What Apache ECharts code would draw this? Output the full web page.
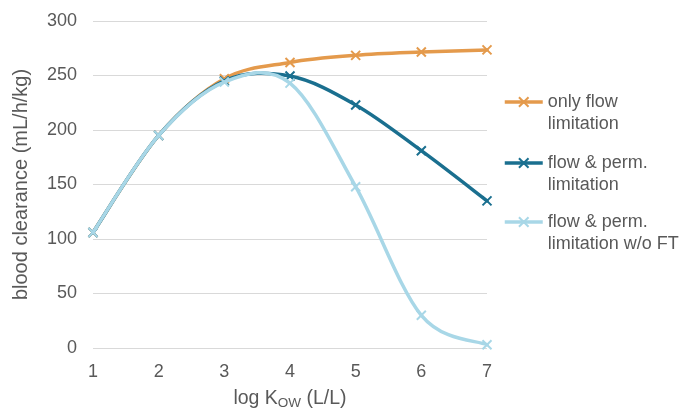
<!DOCTYPE html>
<html><head><meta charset="utf-8">
<script src="https://cdn.jsdelivr.net/npm/echarts@6/dist/echarts.min.js"></script>
<style>html,body{margin:0;padding:0;background:#fff}#c{width:679px;height:409px}</style>
</head><body><div id="c"></div>
<script>
const logKow = [1, 2, 3, 4, 5, 6, 7];
const onlyFlow = [106, 195, 247, 262, 268.5, 271.5, 273.5];
const flowPerm = [106, 195, 245, 249.5, 223, 181, 135];
const flowPermNoFT = [106, 195, 244, 243, 148, 30, 3];
const seriesNames = ['only flow\nlimitation', 'flow & perm.\nlimitation', 'flow & perm.\nlimitation w/o FT'];
const colors = ['#E49A4C', '#1A6F8F', '#A8D7E7'];

const xSym = 'path://M0,0L10,10M10,0L0,10';
const font = 'Liberation Sans, Arial, sans-serif';
const txt = '#595959';

// smooth curve (Catmull-Rom as cubic Bezier) drawn through the library's coordinate system
function curve(vals, color, z) {
  return {
    type: 'custom', coordinateSystem: 'cartesian2d', z, silent: true,
    data: logKow.map((x, i) => [x, vals[i]]),
    renderItem(params, api) {
      if (params.dataIndex !== 0) return null;
      const p = logKow.map((x, i) => api.coord([x, vals[i]]));
      const n = p.length;
      let d = 'M' + p[0][0] + ',' + p[0][1];
      for (let i = 0; i < n - 1; i++) {
        const p0 = p[Math.max(i - 1, 0)], p1 = p[i], p2 = p[i + 1], p3 = p[Math.min(i + 2, n - 1)];
        const c1 = [p1[0] + (p2[0] - p0[0]) / 6, p1[1] + (p2[1] - p0[1]) / 6];
        const c2 = [p2[0] - (p3[0] - p1[0]) / 6, p2[1] - (p3[1] - p1[1]) / 6];
        d += 'C' + c1[0] + ',' + c1[1] + ' ' + c2[0] + ',' + c2[1] + ' ' + p2[0] + ',' + p2[1];
      }
      return { type: 'path', shape: { pathData: d }, style: { fill: 'none', stroke: color, lineWidth: 3.5, lineCap: 'round', lineJoin: 'round' } };
    }
  };
}
function marks(name, vals, color, z) {
  return {
    name, type: 'line', z,
    data: logKow.map((x, i) => [x, vals[i]]),
    symbol: xSym, symbolSize: 9,
    lineStyle: { color, width: 3.5, opacity: 0 },
    itemStyle: { color, borderColor: color, borderWidth: 2 },
    emphasis: { disabled: true }
  };
}
const legendTops = [69, 130, 189];
const chart = echarts.init(document.getElementById('c'));
chart.setOption({
  animation: false,
  grid: { left: 93, right: 192, top: 21, bottom: 61, outerBoundsMode: 'none', containLabel: false },
  legend: seriesNames.map((n, i) => ({
    data: [{ name: n, lineStyle: { width: 3.5, opacity: 1, color: colors[i] } }],
    formatter: name => '\n' + name,
    orient: 'vertical', left: 503, top: legendTops[i], padding: 0,
    itemWidth: 38, itemHeight: 12, itemGap: 0,
    textStyle: { color: txt, fontFamily: font, fontSize: 18, lineHeight: 22 },
    selectedMode: false
  })),
  xAxis: {
    type: 'value', min: 1, max: 7, interval: 1,
    axisLine: { show: false }, axisTick: { show: false }, splitLine: { show: false },
    axisLabel: { color: txt, fontFamily: font, fontSize: 18, margin: 15 },
    name: 'log K{sub|OW} (L/L)', nameLocation: 'middle', nameGap: 39,
    nameTextStyle: { color: txt, fontFamily: font, fontSize: 19.5,
      rich: { sub: { fontSize: 13.5, color: txt, fontFamily: font, verticalAlign: 'bottom', padding: [9, 0, 0, 0] } } }
  },
  yAxis: {
    type: 'value', min: 0, max: 300, interval: 50,
    axisLine: { show: false }, axisTick: { show: false },
    splitLine: { lineStyle: { color: '#D9D9D9', width: 1 } },
    axisLabel: { color: txt, fontFamily: font, fontSize: 18, margin: 16 },
    name: 'blood clearance (mL/h/kg)', nameLocation: 'middle', nameGap: 62, nameRotate: 90,
    nameTextStyle: { color: txt, fontFamily: font, fontSize: 20 }
  },
  series: [
    curve(onlyFlow, colors[0], 2),
    marks(seriesNames[0], onlyFlow, colors[0], 3),
    curve(flowPerm, colors[1], 4),
    marks(seriesNames[1], flowPerm, colors[1], 5),
    curve(flowPermNoFT, colors[2], 6),
    marks(seriesNames[2], flowPermNoFT, colors[2], 7)
  ]
});
</script></body></html>
